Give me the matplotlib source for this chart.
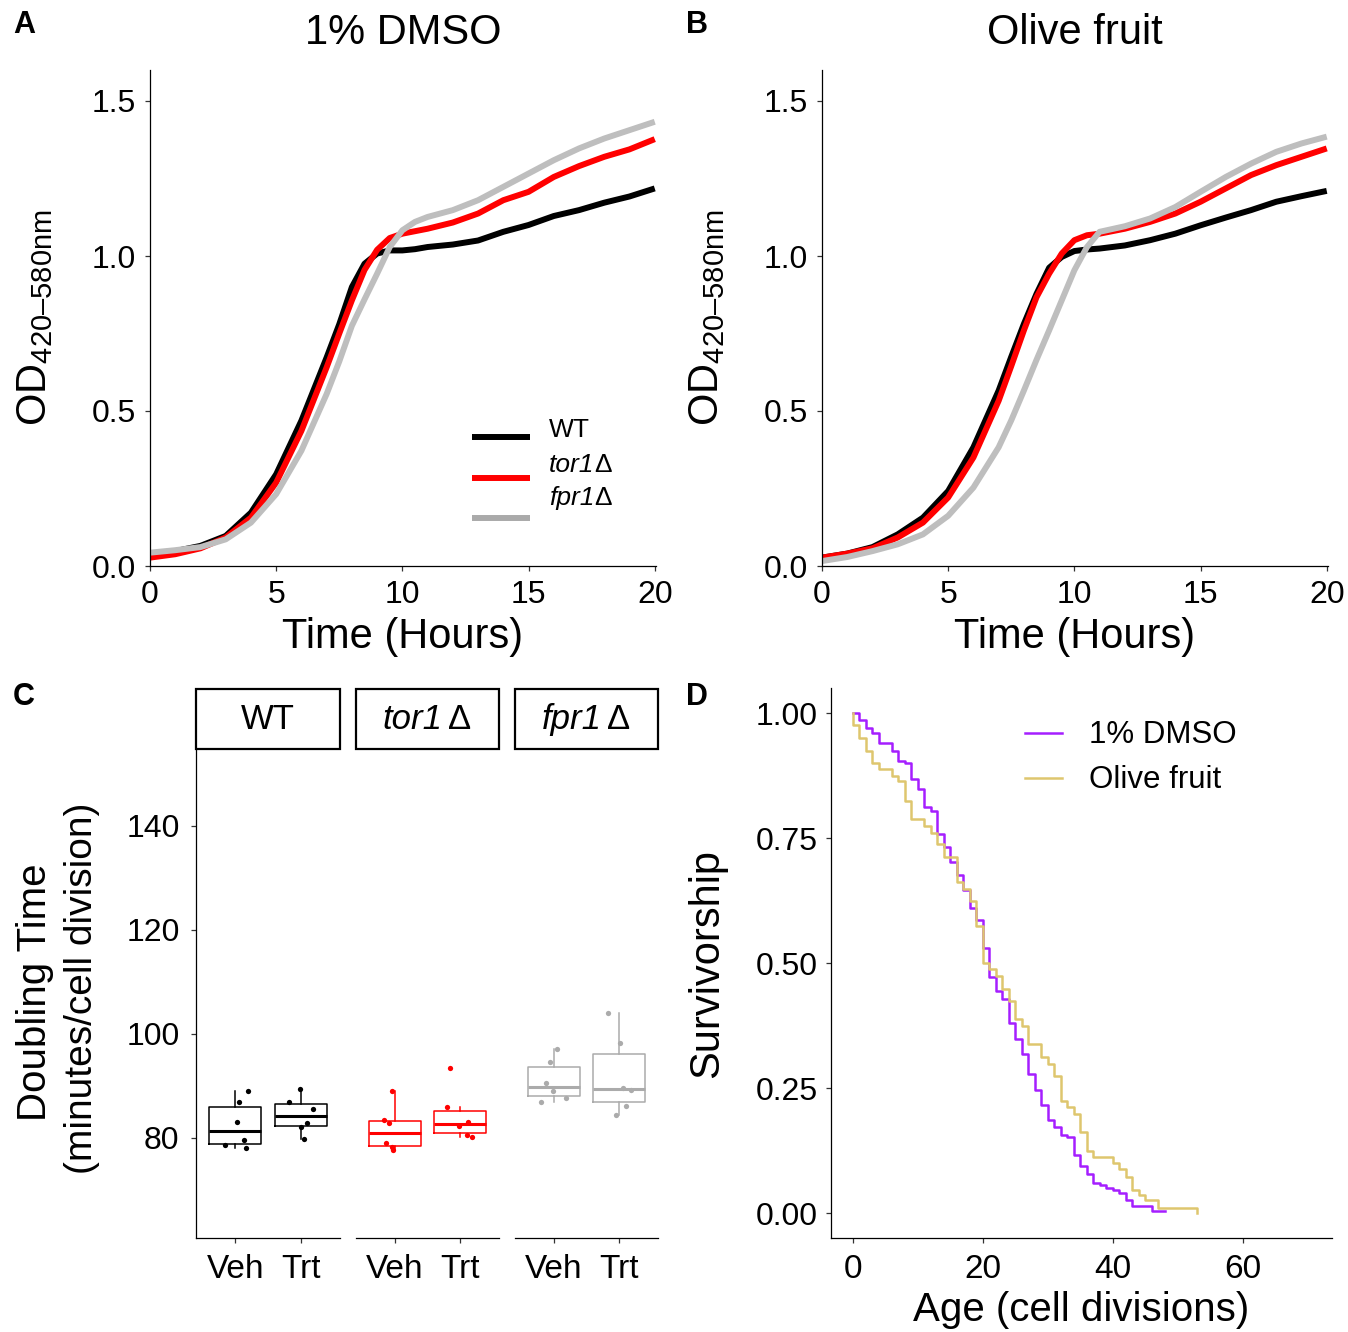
import numpy as np
import matplotlib
matplotlib.use("Agg")
import matplotlib.pyplot as plt
from matplotlib.patches import Rectangle

plt.rcParams['font.family'] = ['Liberation Sans', 'DejaVu Sans']
plt.rcParams['mathtext.fontset'] = 'custom'
plt.rcParams['mathtext.rm'] = 'Liberation Sans'
plt.rcParams['mathtext.it'] = 'Liberation Sans:italic'
plt.rcParams['mathtext.bf'] = 'Liberation Sans:bold'

# ---- growth curves (OD vs time) ----
hours = [0, 1, 2, 3, 4, 5, 6, 7, 7.5, 8, 8.5, 9, 9.5, 10, 10.5, 11,
         12, 13, 14, 15, 16, 17, 18, 19, 20]

dmso_wt = [0.040, 0.048, 0.065, 0.097, 0.172, 0.296, 0.469, 0.673, 0.780, 0.900,
           0.975, 1.008, 1.018, 1.018, 1.022, 1.029, 1.037, 1.050, 1.078, 1.100,
           1.129, 1.148, 1.172, 1.192, 1.218]
dmso_tor1 = [0.027, 0.038, 0.057, 0.092, 0.156, 0.269, 0.436, 0.641, 0.750, 0.857,
             0.955, 1.020, 1.058, 1.072, 1.080, 1.088, 1.108, 1.137, 1.180, 1.207,
             1.255, 1.290, 1.320, 1.344, 1.377]
dmso_fpr1 = [0.043, 0.051, 0.061, 0.086, 0.140, 0.232, 0.372, 0.555, 0.660, 0.775,
             0.860, 0.943, 1.029, 1.083, 1.110, 1.126, 1.148, 1.180, 1.223, 1.266,
             1.309, 1.347, 1.379, 1.406, 1.433]

olive_wt = [0.027, 0.040, 0.061, 0.102, 0.156, 0.242, 0.383, 0.566, 0.675, 0.781,
            0.878, 0.962, 0.997, 1.016, 1.021, 1.024, 1.034, 1.051, 1.072, 1.099,
            1.124, 1.148, 1.175, 1.193, 1.210]
olive_tor1 = [0.027, 0.040, 0.057, 0.092, 0.140, 0.221, 0.350, 0.533, 0.645, 0.760,
              0.867, 0.943, 1.008, 1.051, 1.067, 1.072, 1.088, 1.110, 1.137, 1.175,
              1.218, 1.261, 1.293, 1.320, 1.347]
olive_fpr1 = [0.016, 0.029, 0.048, 0.070, 0.102, 0.162, 0.253, 0.383, 0.470, 0.566,
              0.665, 0.760, 0.857, 0.954, 1.029, 1.078, 1.096, 1.121, 1.158, 1.207,
              1.255, 1.298, 1.336, 1.363, 1.385]

# strain names: (italic part, upright suffix)
strains = [('', 'WT'), ('tor1', 'Δ'), ('fpr1', 'Δ')]
curve_colors = ['#000000', '#FF0000', '#BEBEBE']
legend_colors = ['#000000', '#FF0000', '#AAAAAA']

# ---- doubling times (minutes / cell division) ----
treatments = ['Veh', 'Trt']
dt_wt_veh = [89.0, 87.0, 83.1, 79.6, 78.6, 78.0]
dt_wt_trt = [89.4, 86.9, 85.6, 82.8, 82.1, 79.8]
dt_tor1_veh = [89.1, 83.5, 82.8, 79.0, 78.2, 77.6]
dt_tor1_trt = [93.5, 86.0, 83.0, 82.3, 80.6, 80.1]
dt_fpr1_veh = [97.2, 94.6, 90.6, 89.1, 87.7, 87.0]
dt_fpr1_trt = [104.0, 98.3, 89.7, 89.2, 86.1, 84.5]
# horizontal jitter of each point
jit_wt_veh = [0.19, 0.06, 0.02, 0.13, -0.15, 0.16]
jit_wt_trt = [-0.01, -0.18, 0.18, 0.10, 0.01, 0.05]
jit_tor1_veh = [-0.05, -0.17, -0.09, -0.14, -0.05, -0.03]
jit_tor1_trt = [-0.15, -0.20, 0.13, -0.02, 0.10, 0.19]
jit_fpr1_veh = [0.05, -0.06, -0.12, -0.02, 0.19, -0.20]
jit_fpr1_trt = [-0.17, 0.02, 0.06, 0.18, 0.10, -0.05]
box_colors = ['#000000', '#FF0000', '#ABABAB']

# ---- replicative lifespan (Kaplan-Meier) ----
dmso_age = list(range(0, 49))
dmso_surv = [1.000, 0.986, 0.970, 0.960, 0.940, 0.940, 0.925, 0.904, 0.900, 0.868,
             0.848, 0.813, 0.805, 0.758, 0.733, 0.702, 0.677, 0.647, 0.610, 0.587,
             0.530, 0.472, 0.444, 0.428, 0.380, 0.348, 0.318, 0.278, 0.246, 0.216,
             0.186, 0.172, 0.156, 0.152, 0.116, 0.095, 0.079, 0.061, 0.056, 0.051,
             0.046, 0.041, 0.026, 0.014, 0.014, 0.014, 0.005, 0.005, 0.005]
olive_age = [0] + list(range(0, 54))
olive_surv = [1.000, 0.977, 0.950, 0.925, 0.900, 0.888, 0.888, 0.875, 0.864, 0.825,
              0.788, 0.788, 0.775, 0.761, 0.739, 0.713, 0.713, 0.663, 0.648, 0.625,
              0.575, 0.500, 0.488, 0.475, 0.448, 0.424, 0.388, 0.374, 0.338, 0.338,
              0.312, 0.299, 0.274, 0.224, 0.212, 0.198, 0.162, 0.124, 0.112, 0.112,
              0.112, 0.100, 0.088, 0.073, 0.047, 0.037, 0.026, 0.026, 0.011, 0.011,
              0.011, 0.011, 0.011, 0.011, 0.000]
rls_labels = ['1% DMSO', 'Olive fruit']
rls_colors = ['#A51EFF', '#DEC66E']

W, H = 1348, 1332
fig = plt.figure(figsize=(W / 100, H / 100), dpi=100)


def add_axes_px(left, top, right, bottom):
    return fig.add_axes([left / W, 1 - bottom / H, (right - left) / W, (bottom - top) / H])


def text_px(x, y, s, **kw):
    fig.text(x / W, 1 - y / H, s, ha='center', va='center', **kw)


def gene_text(ax, x, y, name, size, gap=0, ha='left'):
    # italic gene name followed by an upright suffix
    italic, suffix = name
    if not italic:
        return ax.text(x, y, suffix, transform=ax.transAxes, fontsize=size,
                       ha=ha, va='center')
    t = ax.text(x, y, italic, transform=ax.transAxes, fontsize=size,
                style='italic', ha=ha, va='center')
    ax.annotate(suffix, xy=(1, 0.5), xycoords=t, xytext=(gap, 0),
                textcoords='offset points', fontsize=size, ha='left', va='center',
                annotation_clip=False)
    return t


def classic(ax, pad=6.5, size=23):
    for s in ['top', 'right']:
        ax.spines[s].set_visible(False)
    for s in ['left', 'bottom']:
        ax.spines[s].set_linewidth(0.9)
    ax.tick_params(direction='out', length=3.8, width=0.9, color='#333333',
                   labelsize=size, pad=pad, labelcolor='black')


# ---- A / B: growth curves ----
growth = [(dmso_wt, dmso_tor1, dmso_fpr1), (olive_wt, olive_tor1, olive_fpr1)]
titles = ['1% DMSO', 'Olive fruit']
for i, (left, right) in enumerate([(150, 656), (822, 1328)]):
    ax = add_axes_px(left, 70, right, 566)
    for ys, c in zip(growth[i], curve_colors):
        ax.plot(hours, ys, color=c, lw=4.3, solid_capstyle='butt')
    ax.set_xlim(0, 20.05)
    ax.set_ylim(0, 1.6)
    ax.set_xticks([0, 5, 10, 15, 20])
    ax.set_yticks([0, 0.5, 1.0, 1.5])
    ax.set_yticklabels(['0.0', '0.5', '1.0', '1.5'])
    classic(ax)
    cx = (left + right) / 2
    text_px(cx, 33, titles[i], fontsize=30)
    text_px(cx, 637, 'Time (Hours)', fontsize=30)
    text_px(left - 115, 318, 'OD$_{\\mathregular{420\u2013580nm}}$', fontsize=30, rotation=90)
    if i == 0:
        for k, name in enumerate(strains):
            ly = [0.260, 0.177, 0.097][k]
            ax.plot([0.636, 0.751], [ly, ly], transform=ax.transAxes,
                    color=legend_colors[k], lw=4.3, solid_capstyle='butt', clip_on=False)
            gene_text(ax, 0.789, [0.274, 0.204, 0.137][k], name, 19)

# ---- C: doubling time boxplots by strain ----
dt_data = [(dt_wt_veh, dt_wt_trt), (dt_tor1_veh, dt_tor1_trt), (dt_fpr1_veh, dt_fpr1_trt)]
dt_jit = [(jit_wt_veh, jit_wt_trt), (jit_tor1_veh, jit_tor1_trt), (jit_fpr1_veh, jit_fpr1_trt)]
facets = [(196, 340), (356, 499), (515, 658)]
for k, (left, right) in enumerate(facets):
    ax = add_axes_px(left, 750, right, 1238)
    col = box_colors[k]
    lw = 1.1
    ax.boxplot(list(dt_data[k]), positions=[1, 2], widths=0.8, whis=1.5,
               showfliers=False, showcaps=False,
               boxprops=dict(color=col, lw=lw),
               whiskerprops=dict(color=col, lw=lw),
               medianprops=dict(color=col, lw=2.2))
    for j in range(2):
        xs = np.array(dt_jit[k][j]) + (j + 1)
        ax.plot(xs, dt_data[k][j], 'o', color=col, ms=3.8, mec='none', zorder=5)
    ax.set_xlim(0.4, 2.6)
    ax.set_ylim(60.77, 154.6)
    ax.set_xticks([1, 2])
    ax.set_xticklabels(treatments)
    classic(ax, pad=8)
    ax.tick_params(axis='x', labelsize=24)
    if k == 0:
        ax.set_yticks([80, 100, 120, 140])
    else:
        ax.spines['left'].set_visible(False)
        ax.set_yticks([])
    ax.add_patch(Rectangle((0, 1.002), 1, 0.123, transform=ax.transAxes,
                           facecolor='white', edgecolor='black', lw=1.6, clip_on=False))
    if k == 0:
        gene_text(ax, 0.5, 1.063, strains[k], 25, ha='center')
    else:
        gene_text(ax, 0.605, 1.063, strains[k], 25, gap=4, ha='right')

text_px(35, 992, 'Doubling Time', fontsize=29, rotation=90)
text_px(82, 988, '(minutes/cell division)', fontsize=28, rotation=90)

# ---- D: survivorship ----
ax = add_axes_px(831, 688, 1332, 1238)
ax.step(dmso_age, dmso_surv, where='post', color=rls_colors[0], lw=1.8)
ax.step(olive_age, olive_surv, where='post', color=rls_colors[1], lw=1.8)
ax.set_xlim(-3.38, 73.7)
ax.set_ylim(-0.05, 1.051)
ax.set_xticks([0, 20, 40, 60])
ax.set_yticks([0, 0.25, 0.5, 0.75, 1.0])
ax.set_yticklabels(['0.00', '0.25', '0.50', '0.75', '1.00'])
classic(ax, pad=6)
ax.tick_params(axis='x', labelsize=24, pad=8)
for k, lab in enumerate(rls_labels):
    ly = [0.918, 0.836][k]
    ax.plot([0.387, 0.461], [ly, ly], transform=ax.transAxes, color=rls_colors[k],
            lw=1.8, clip_on=False)
    ax.text(0.515, ly - 0.004, lab, transform=ax.transAxes, fontsize=22.5,
            va='center', ha='left')
text_px(707, 964, 'Survivorship', fontsize=30, rotation=90)
text_px(1081, 1310, 'Age (cell divisions)', fontsize=29)

# panel letters
for lab, x, y in [('A', 24, 25), ('B', 697, 25), ('C', 24, 697), ('D', 697, 697)]:
    text_px(x, y, lab, fontsize=22, fontweight='bold')

fig.savefig('out.png', dpi=100)
